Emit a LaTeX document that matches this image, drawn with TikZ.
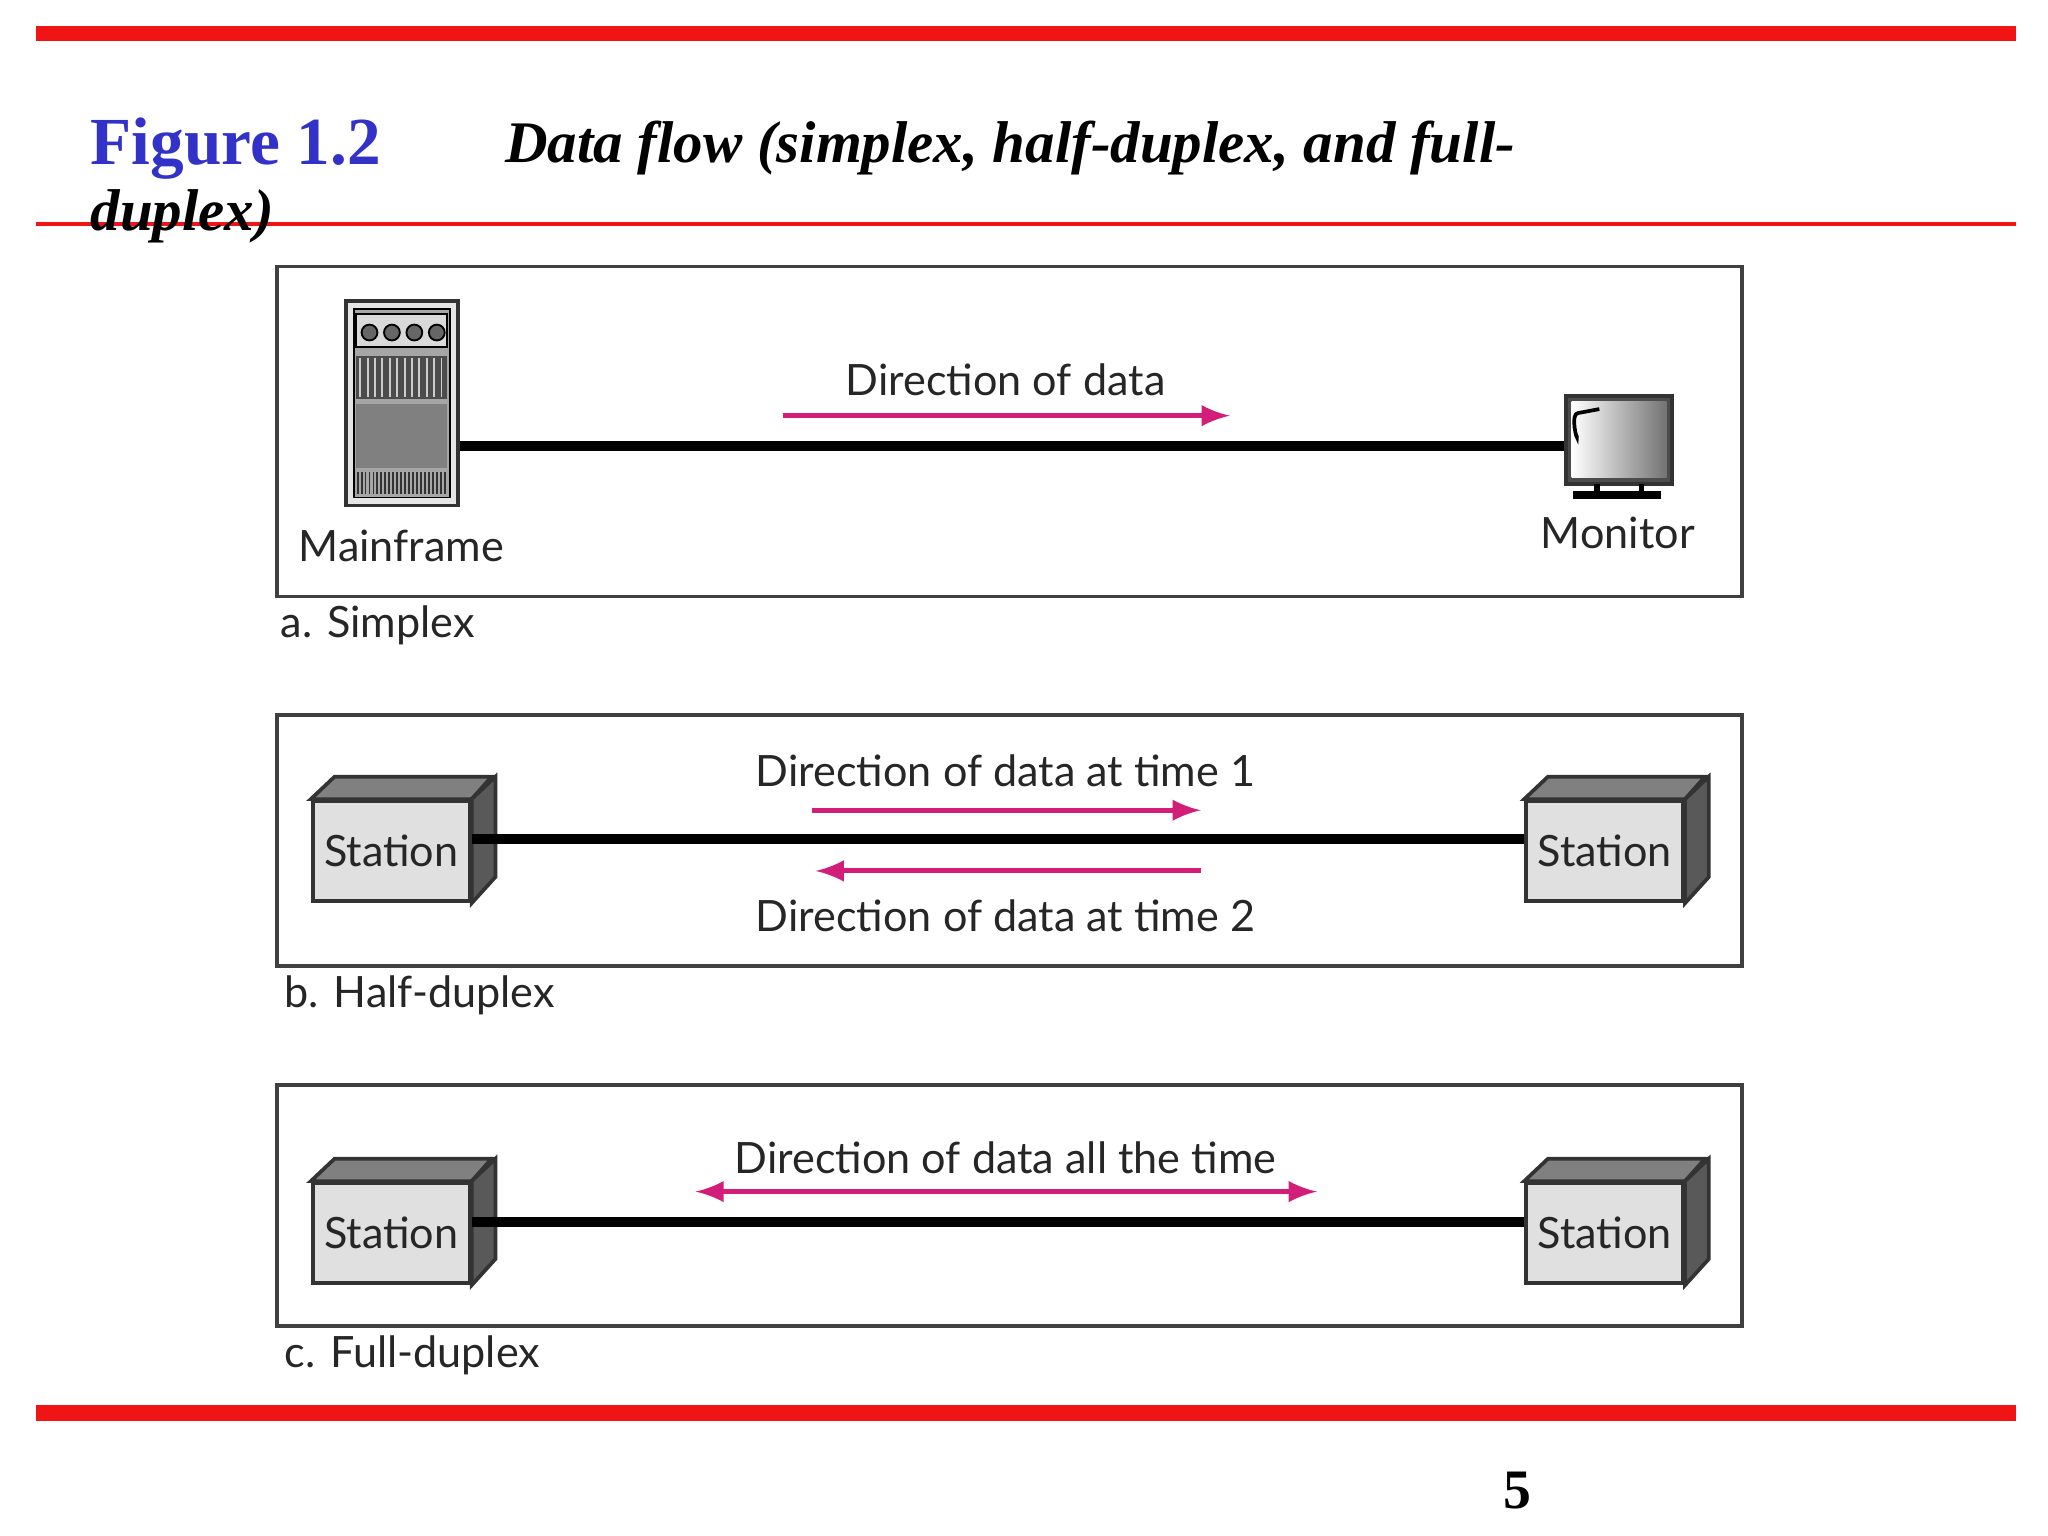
\documentclass[tikz,border=0pt]{standalone}
\usepackage{fontspec}
\setmainfont{Liberation Serif}
\newfontfamily\lab{Lato}
\usetikzlibrary{arrows,positioning,calc}
\definecolor{redbar}{RGB}{240,20,20}
\definecolor{figblue}{RGB}{50,50,200}
\definecolor{flow}{RGB}{210,30,120}
\tikzset{
  basic/.style  = {font=\lab\fontsize{9.3}{11}\selectfont, inner sep=0pt, text=black!85},
  frame/.style  = {draw=black!75, thick},
  station/.style = {basic, draw=black!80, fill=black!12, thick, minimum width=1.19cm, minimum height=0.76cm},
  face/.style   = {draw=black!80, thick, fill=black!45},
  wire/.style   = {line width=2.2pt},
  flowarrow/.style = {-latex, flow, line width=1.1pt, shorten >=0pt}
}
\begin{document}
\begin{tikzpicture}[x=0.01cm, y=-0.01cm]
\useasboundingbox (0,0) rectangle (1552,1164);

% page rules and title
\fill[redbar] (27,20) rectangle (1528,31);
\draw[redbar, line width=0.8pt] (27,170) -- (1528,170);
\fill[redbar] (27,1065) rectangle (1528,1077);
\node[anchor=base west, text=figblue, font=\fontsize{14.5}{18}\bfseries\selectfont, inner sep=0pt] (fig) at (68,125) {Figure 1.2};
\node[anchor=base west, font=\fontsize{12.7}{16}\bfseries\itshape\selectfont, inner sep=0pt] (cap1) at (382,123) {Data flow (simplex, half-duplex, and full-};
\node[anchor=base west, font=\fontsize{12.7}{16}\bfseries\itshape\selectfont, inner sep=0pt] (cap2) at (68,175) {duplex)};
\node[anchor=base, font=\fontsize{12}{14}\bfseries\selectfont, inner sep=0pt] (page) at (1150,1143) {5};

% panel frames
\draw[frame] (210,202) rectangle (1320,452);
\draw[frame] (210,542) rectangle (1320,732);
\draw[frame] (210,822) rectangle (1320,1005);
\node[basic, anchor=west] (capa) at (212,474) {a. Simplex};
\node[basic, anchor=west] (capb) at (215,754) {b. Half-duplex};
\node[basic, anchor=west] (capc) at (215,1027) {c. Full-duplex};

% a. simplex: mainframe and monitor
\node[draw=black!80, thick, fill=black!10, minimum width=0.85cm, minimum height=1.55cm, inner sep=0pt] (mainframe) at (304.5,305.5) {};
\draw[fill=black!35] (268,234) rectangle (341,377);
\draw[fill=black!15] (270,238) rectangle (339,263);
\foreach \i in {0,...,3} \draw[fill=black!60] (280+\i*17,252) circle (6);
\fill[black!70] (270,270) rectangle (339,302);
\foreach \i in {0,...,11} \draw[black!20] (273+\i*5.6,271) -- (273+\i*5.6,301);
\fill[black!50] (270,306) rectangle (339,355);
\foreach \i in {0,...,22} \draw[black!80, thin] (271+\i*3,358) -- (271+\i*3,374);
\node[draw=black!80, thick, fill=black!70, minimum width=0.8cm, minimum height=0.67cm, inner sep=0pt] (monitor) at (1227,333.5) {};
\shade[left color=white, right color=black!55] (1191,304) rectangle (1263,362);
\draw[thick] (1195,330) to[out=-85,in=180] (1196,313) -- (1212,310);
\draw[line width=1.2pt] (1210,367) -- (1210,374) (1244,367) -- (1244,374);
\fill (1192,372) rectangle (1259,378);
\node[basic] (mflabel) at (304,414) {Mainframe};
\node[basic] (monlabel) at (1226,404) {Monitor};
\draw[wire] (mainframe.east |- 0,338) -- (monitor.west |- 0,338);
\node[basic] (dira) at (762,288) {Direction of data};
\coordinate (a1) at (593,315);
\coordinate (a2) at (932,315);
\draw[flowarrow] (a1) -- (a2);

% b. and c.: stations
\foreach \n/\x/\y in {b1/296.5/645, b2/1216/645, c1/296.5/934.5, c2/1216/934.5}{
  \node[station] (\n) at (\x,\y) {Station};
  \draw[face, fill=black!50] (\n.north west) -- ++(18,-17) -- ++(119,0) -- (\n.north east) -- cycle;
  \draw[face, fill=black!65] (\n.north east) -- ++(18,-17) -- ++(0,76) -- (\n.south east) -- cycle;
}
\draw[wire] (b1.east |- 0,636) -- (b2.west |- 0,636);
\draw[wire] (c1.east |- 0,926) -- (c2.west |- 0,926);

% b. half-duplex arrows
\node[basic] (dirb1) at (762,584) {Direction of data at time 1};
\node[basic] (dirb2) at (762,694) {Direction of data at time 2};
\coordinate (b1l) at (615,614);
\coordinate (b1r) at (910,614);
\coordinate (b2l) at (618,660);
\coordinate (b2r) at (910,660);
\draw[flowarrow] (b1l) -- (b1r);
\draw[flowarrow] (b2r) -- (b2l);

% c. full-duplex arrow
\node[basic] (dirc) at (762,877) {Direction of data all the time};
\coordinate (cl) at (527,903);
\coordinate (cr) at (998,903);
\draw[flowarrow, latex-latex] (cl) -- (cr);
\end{tikzpicture}
\end{document}
